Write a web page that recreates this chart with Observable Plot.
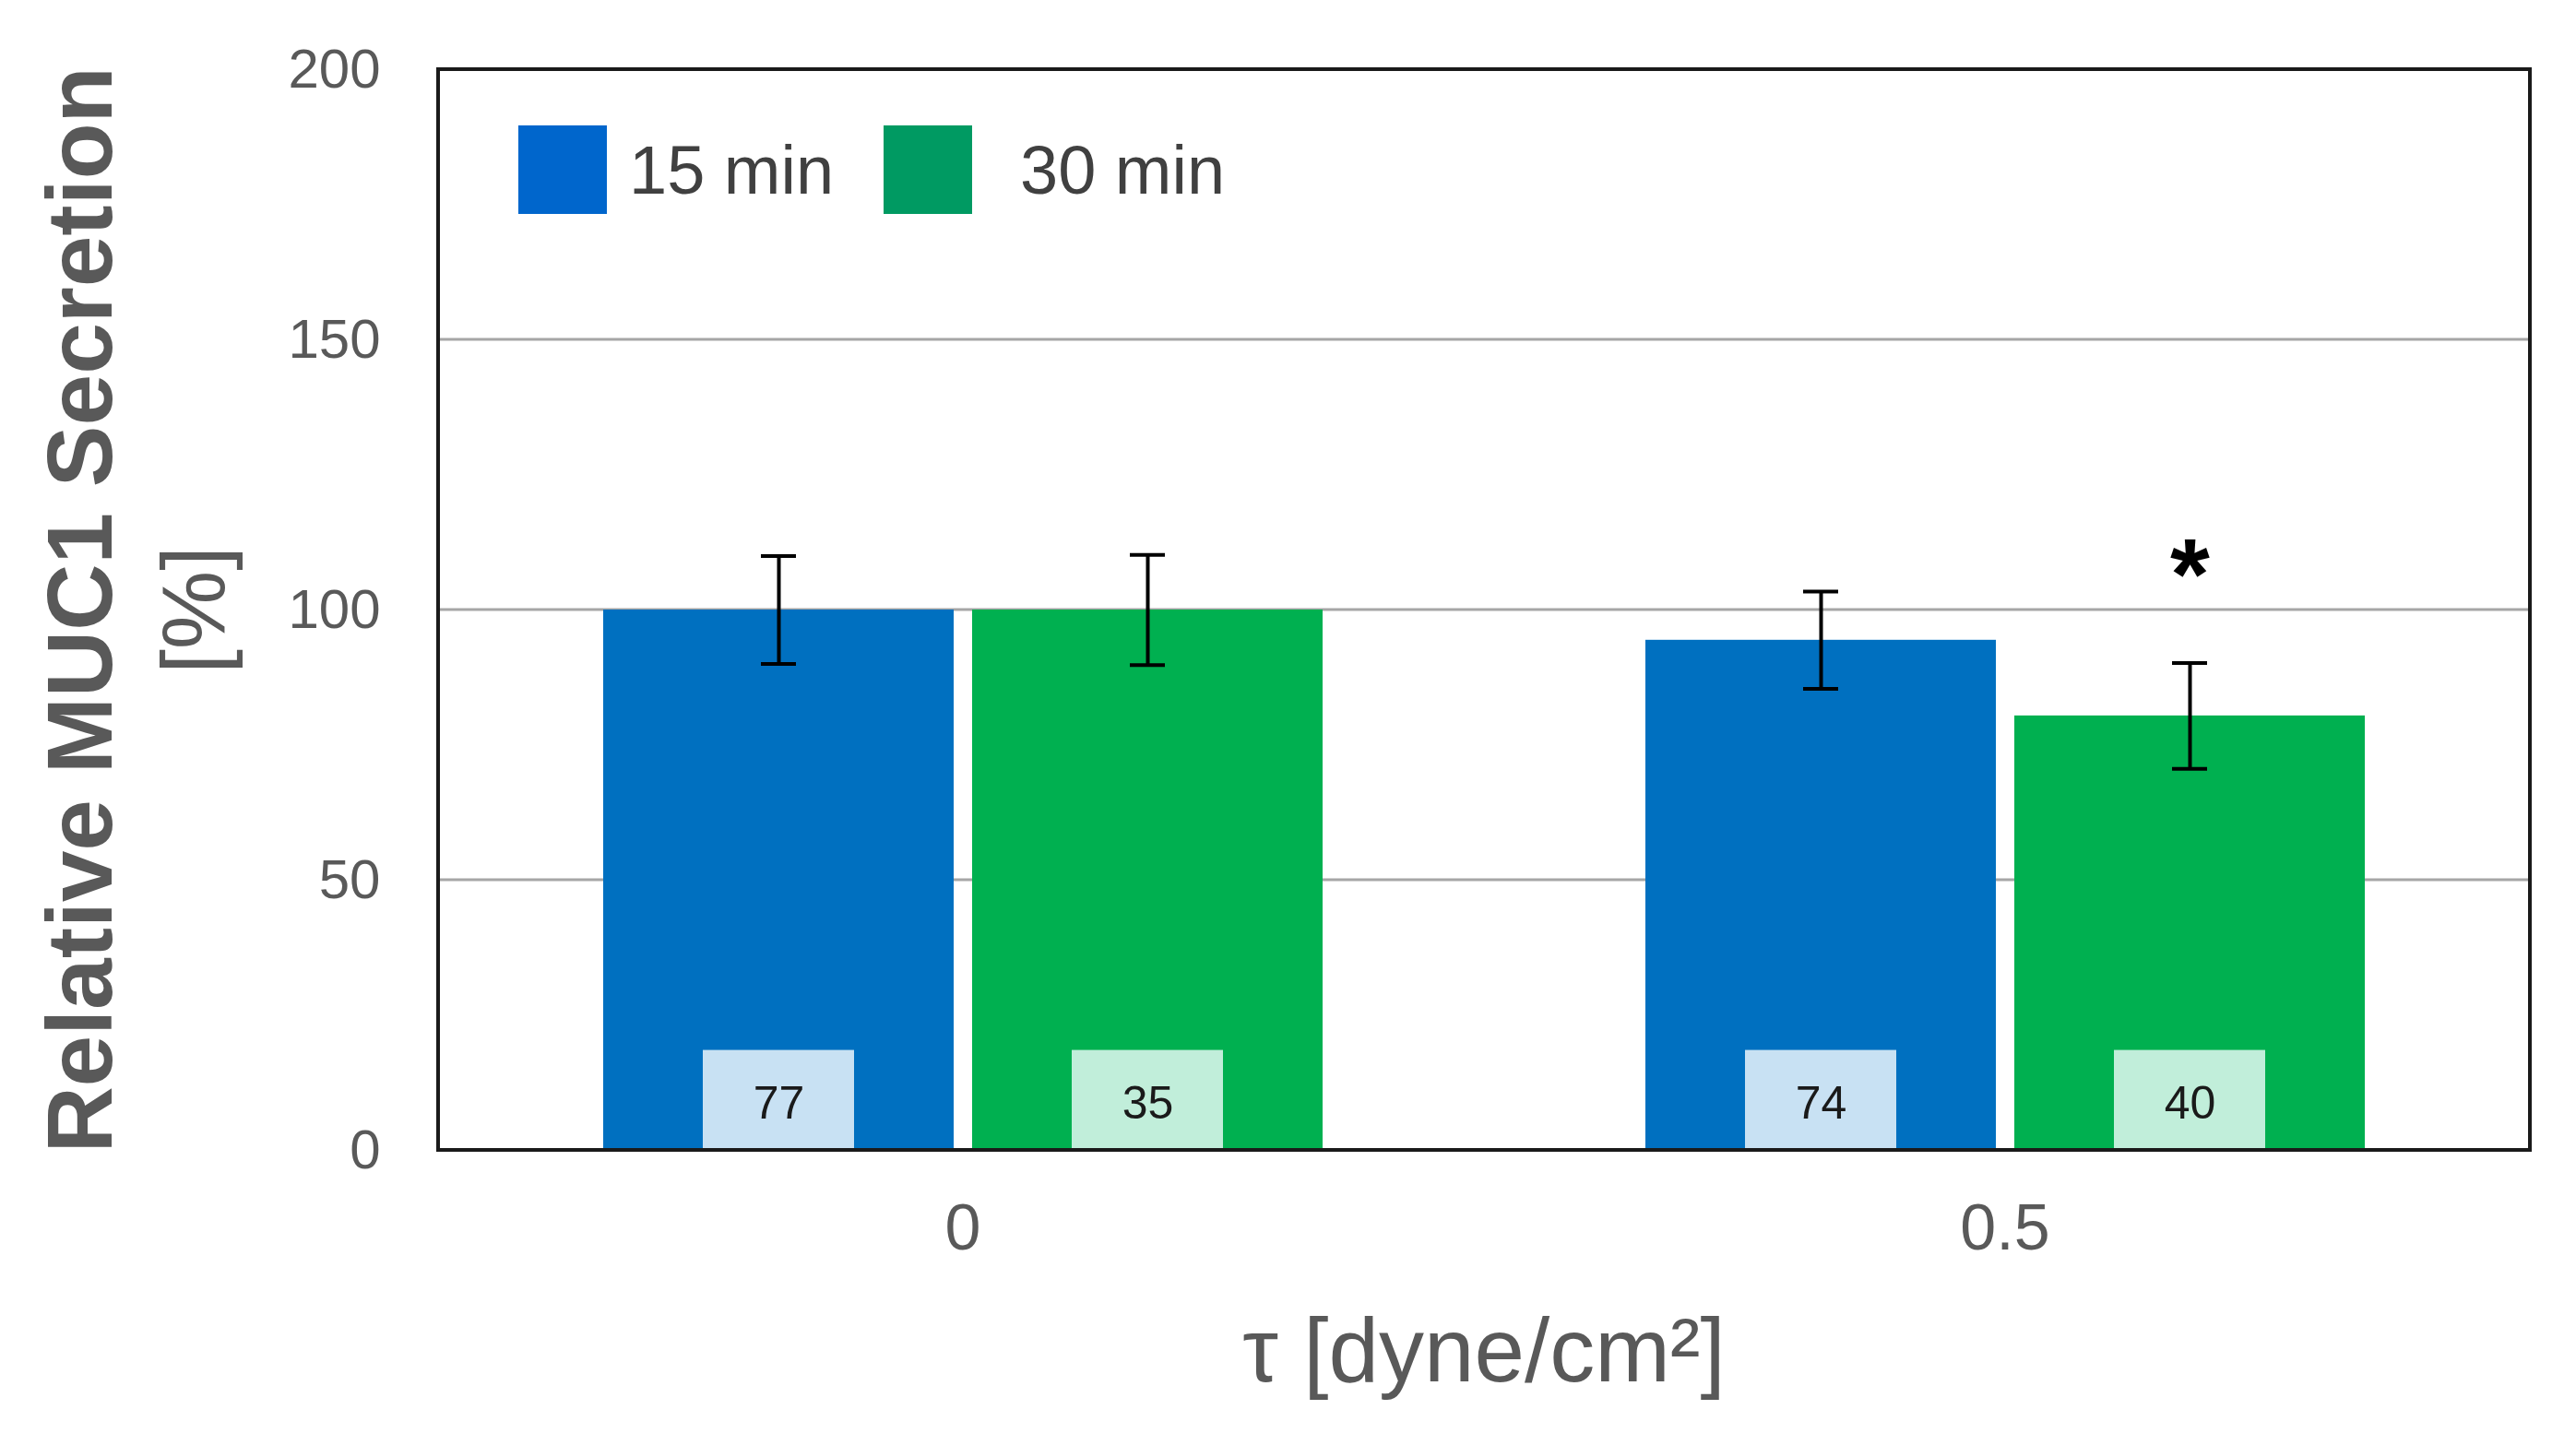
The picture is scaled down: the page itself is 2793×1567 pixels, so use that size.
<!DOCTYPE html>
<html><head><meta charset="utf-8">
<script src="https://cdn.jsdelivr.net/npm/d3@7"></script>
<script src="https://cdn.jsdelivr.net/npm/@observablehq/plot@0.6"></script>
<style>
html,body{margin:0;padding:0;background:#fff;}
#wrap{position:relative;width:2793px;height:1567px;font-family:"Liberation Sans",Arial,sans-serif;}
.lg{position:absolute;display:flex;align-items:center;height:96px;}
.sw{width:96px;height:96px;}
.lt{font-size:74px;color:#404040;}
</style></head><body><div id="wrap"></div>
<script>
// ---- data ----
const groups = ["0", "0.5"];              // tau [dyne/cm2]
const series = ["15 min", "30 min"];
const values15 = [100, 94.4];
const values30 = [100, 80.4];
const err15 = [10, 9];
const err30 = [10.2, 9.8];
const n15 = [77, 74];
const n30 = [35, 40];
const star15 = ["", ""];
const star30 = ["", "*"];
const yTicks = [0, 50, 100, 150, 200];
const gridValues = [50, 100, 150];

const barColors = ["#0070C0", "#00B050"];
const boxColors = {"15 min": "#C8E1F3", "30 min": "#C1EEDA"};
const legendColors = ["#0066CC", "#009A62"];

const rows = groups.flatMap((g, i) => [
  {tau: g, series: series[0], value: values15[i], err: err15[i], n: n15[i], star: star15[i]},
  {tau: g, series: series[1], value: values30[i], err: err30[i], n: n30[i], star: star30[i]}
]);
const lo = d => d.value - d.err;
const hi = d => d.value + d.err;
const BOX = 18.5;
const W = 2793, H = 1567, ML = 475, MR = 50, MT = 75, MB = 320;

const plot = Plot.plot({
  width: W,
  height: H,
  marginLeft: ML,
  marginRight: MR,
  marginTop: MT,
  marginBottom: MB,
  style: {fontFamily: '"Liberation Sans", Arial, sans-serif', background: "#fff"},
  fx: {domain: groups, paddingInner: 0.3086, paddingOuter: 0.157},
  x: {domain: series, paddingInner: 0.05, paddingOuter: 0, axis: null},
  y: {domain: [0, 200]},
  color: {domain: series, range: barColors},
  marks: [
    Plot.barY(rows, {fx: "tau", x: "series", y: "value", fill: "series"}),
    ...series.map(s => Plot.barY(rows.filter(d => d.series === s),
      {fx: "tau", x: "series", y1: 0, y2: BOX, fill: boxColors[s], insetLeft: 108, insetRight: 108})),
    Plot.text(rows, {fx: "tau", x: "series", y: BOX / 2, text: "n", fontSize: 50, fill: "#1a1a1a", dy: 4}),
    Plot.ruleX(rows, {fx: "tau", x: "series", y1: lo, y2: hi, stroke: "#000", strokeWidth: 4}),
    Plot.tickY(rows, {fx: "tau", x: "series", y: lo, stroke: "#000", strokeWidth: 4, insetLeft: 171, insetRight: 171}),
    Plot.tickY(rows, {fx: "tau", x: "series", y: hi, stroke: "#000", strokeWidth: 4, insetLeft: 171, insetRight: 171}),
    Plot.text(rows, {fx: "tau", x: "series", y: hi, text: "star", dy: -94, fontSize: 110, fontWeight: "bold", fill: "#000"}),
    Plot.axisY({ticks: yTicks, tickSize: 0, tickPadding: 241, fontSize: 60, fill: "#595959", label: null}),
    Plot.axisFx({anchor: "bottom", tickSize: 0, tickPadding: 58, fontSize: 70, fill: "#595959", label: null}),
    Plot.text(["Relative MUC1 Secretion"], {frameAnchor: "left", textAnchor: "middle", rotate: -90, dx: -565, fontSize: 100, fontWeight: "bold", fill: "#595959", facet: "super"}),
    Plot.text(["[%]"], {frameAnchor: "left", textAnchor: "middle", rotate: -90, dx: -441, fontSize: 96, fill: "#595959", facet: "super"}),
    Plot.text(["τ [dyne/cm²]"], {frameAnchor: "bottom", textAnchor: "middle", dy: 250, fontSize: 98, fill: "#595959", facet: "super"})
  ]
});

// gridlines and plot frame spanning the whole plotting area, positioned with Plot's own y scale
const yScale = plot.scale("y");
const firstG = plot.querySelector("g");
const grid = d3.create("svg:g").attr("stroke", "#A6A6A6").attr("stroke-width", 3);
grid.selectAll("line").data(gridValues).join("line")
  .attr("x1", ML).attr("x2", W - MR)
  .attr("y1", d => yScale.apply(d)).attr("y2", d => yScale.apply(d));
plot.insertBefore(grid.node(), firstG);
const yTop = yScale.apply(200), yBot = yScale.apply(0);
d3.select(plot).append("rect")
  .attr("x", ML).attr("y", yTop).attr("width", W - MR - ML).attr("height", yBot - yTop)
  .attr("fill", "none").attr("stroke", "#1a1a1a").attr("stroke-width", 4);

const wrap = document.getElementById("wrap");
wrap.appendChild(plot);

// legend (inside plot area, top-left)
const legendPos = [562, 958];
const legendGap = [24, 52];
series.forEach((s, i) => {
  const el = document.createElement("div");
  el.className = "lg";
  el.style.left = legendPos[i] + "px";
  el.style.top = "136px";
  el.innerHTML = `<div class="sw" style="background:${legendColors[i]}"></div><span class="lt" style="margin-left:${legendGap[i]}px">${s}</span>`;
  wrap.appendChild(el);
});
</script></body></html>
